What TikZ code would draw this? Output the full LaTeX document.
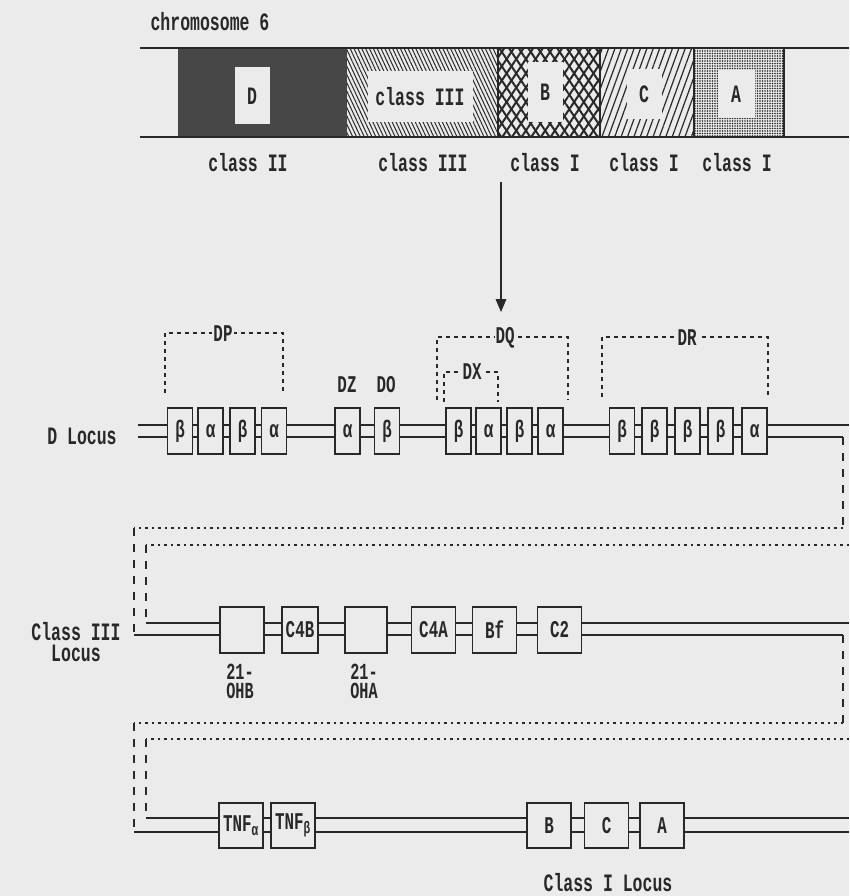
\documentclass[tikz,border=0pt]{standalone}
\usepackage{fontspec}
\newfontfamily\dotfont{Liberation Mono}[FakeStretch=0.66]
\usetikzlibrary{patterns.meta, arrows}
\definecolor{paper}{RGB}{235,235,235}
\definecolor{ink}{RGB}{40,40,40}

\tikzset{
  strand/.style = {ink, line width=1.4pt},
  genebox/.style = {draw=ink, line width=1.4pt, fill=paper, inner sep=0pt,
    minimum width=25pt, minimum height=46pt,
    font=\dotfont\bfseries\fontsize{24}{26}\selectfont},
  widebox/.style = {genebox, minimum width=44pt},
  linkdots/.style = {ink, line width=1.8pt, dash pattern=on 2.5pt off 4pt},
  linkdash/.style = {ink, line width=1.4pt, dash pattern=on 8pt off 8pt},
  bracket/.style = {ink, line width=1.3pt, dash pattern=on 4pt off 4pt},
  tag/.style = {fill=paper, inner sep=1pt,
    font=\dotfont\bfseries\fontsize{24}{26}\selectfont},
  hole/.style = {fill=paper, inner sep=0pt},
  twoline/.style = {inner sep=0pt, font=\dotfont\bfseries\fontsize{23}{24}\selectfont},
}

\begin{document}
\begin{tikzpicture}[x=1pt, y=-1pt, text=ink,
    font=\dotfont\bfseries\fontsize{25}{28}\selectfont]
  \useasboundingbox (0,0) rectangle (849,896);
  \fill[paper] (0,0) rectangle (849,896);

  % chromosome 6
  \node (chr) at (210,22) {chromosome 6};
  \fill[black!72] (178,48) rectangle (347,137);
  \fill[pattern={Lines[angle=-65, distance=3.5pt, line width=1pt]}, pattern color=ink]
    (347,48) rectangle (498,137);
  \fill[pattern={Lines[angle=56, distance=8pt, line width=2pt]}, pattern color=ink]
    (498,48) rectangle (600,137);
  \fill[pattern={Lines[angle=-56, distance=8pt, line width=2pt]}, pattern color=ink]
    (498,48) rectangle (600,137);
  \fill[pattern={Lines[angle=70, distance=6pt, line width=1.2pt]}, pattern color=ink]
    (600,48) rectangle (694,137);
  \fill[pattern={Dots[distance=2.5pt, radius=0.8pt]}, pattern color=ink]
    (694,48) rectangle (784,137);
  \draw[strand] (140,48) -- (849,48);
  \draw[strand] (140,137) -- (849,137);
  \draw[ink, line width=1.2pt] (498,48) -- (498,137) (600,48) -- (600,137)
    (694,48) -- (694,137) (784,48) -- (784,137);
  \node[hole, minimum width=35pt, minimum height=57pt] (Dreg) at (252,96) {D};
  \node[hole, minimum width=105pt, minimum height=51pt] (IIIreg) at (420,97) {class III};
  \node[hole, minimum width=35pt, minimum height=60pt] (Breg) at (545,92) {B};
  \node[hole, minimum width=35pt, minimum height=50pt] (Creg) at (644,94) {C};
  \node[hole, minimum width=37pt, minimum height=48pt] (Areg) at (736,94) {A};
  \node (lII) at (248,163) {class II};
  \node (lIII) at (423,163) {class III};
  \node (lIb) at (545,163) {class I};
  \node (lIc) at (644,163) {class I};
  \node (lIa) at (737,163) {class I};

  \coordinate (cut) at (501,182);
  \coordinate (cutend) at (501,312);
  \draw[ink, line width=2pt, -triangle 45] (cut) -- (cutend);

  % D locus
  \coordinate (dLi) at (138,425);
  \coordinate (dRi) at (849,425);
  \coordinate (dLo) at (138,437);
  \coordinate (dRo) at (843,437);
  \draw[strand] (dLi) -- (dRi);
  \draw[strand] (dLo) -- (dRo);
  \node (dlab) at (82,436) {D Locus};

  \node[genebox] (dp1) at (180,431) {β};
  \node[genebox] (dp2) at (210.5,431) {α};
  \node[genebox] (dp3) at (242.5,431) {β};
  \node[genebox] (dp4) at (274,431) {α};
  \node[genebox] (dz) at (347.5,431) {α};
  \node[genebox] (do) at (387,431) {β};
  \node[genebox] (dq1) at (458.5,431) {β};
  \node[genebox] (dq2) at (488.5,431) {α};
  \node[genebox] (dq3) at (519.5,431) {β};
  \node[genebox] (dq4) at (550.5,431) {α};
  \node[genebox] (dr1) at (622,431) {β};
  \node[genebox] (dr2) at (654.5,431) {β};
  \node[genebox] (dr3) at (687.5,431) {β};
  \node[genebox] (dr4) at (720.5,431) {β};
  \node[genebox] (dr5) at (754.5,431) {α};

  \draw[bracket] (165,393) -- (165,333) -- (283,333) -- (283,393);
  \node[tag] (dplab) at (223,334) {DP};
  \draw[bracket] (437,400) -- (437,337) -- (568,337) -- (568,400);
  \node[tag] (dqlab) at (505,338) {DQ};
  \draw[bracket] (444,402) -- (444,372) -- (498,372) -- (498,402);
  \node[tag] (dxlab) at (472,372) {DX};
  \draw[bracket] (602,397) -- (602,337) -- (768,337) -- (768,397);
  \node[tag] (drlab) at (687,338) {DR};
  \node[tag] (dzlab) at (347,385) {DZ};
  \node[tag] (dolab) at (386,385) {DO};

  % link to class III
  \coordinate (o1R) at (843,528);
  \coordinate (o1L) at (134,528);
  \coordinate (i1R) at (849,545);
  \coordinate (i1L) at (146,545);
  \coordinate (cLo) at (134,635);
  \coordinate (cRo) at (843,635);
  \coordinate (cLi) at (146,623);
  \coordinate (cRi) at (849,623);
  \draw[linkdash] (dRo) -- (o1R);
  \draw[linkdots] (o1R) -- (o1L);
  \draw[linkdash] (o1L) -- (cLo);
  \draw[linkdots] (i1R) -- (i1L);
  \draw[linkdash] (i1L) -- (cLi);

  % class III locus
  \draw[strand] (cLi) -- (cRi);
  \draw[strand] (cLo) -- (cRo);
  \node[twoline, font=\dotfont\bfseries\fontsize{25}{28}\selectfont] (clab1) at (76,632) {Class III};
  \node[twoline, font=\dotfont\bfseries\fontsize{25}{28}\selectfont] (clab2) at (76,653) {Locus};
  \node[widebox] (ohb) at (242,630) {};
  \node[widebox, minimum width=36pt] (c4b) at (300,630) {C4B};
  \node[widebox, minimum width=42pt] (oha) at (366,630) {};
  \node[widebox] (c4a) at (433.5,630) {C4A};
  \node[widebox] (bf) at (494.5,630) {Bf};
  \node[widebox] (c2) at (559.5,630) {C2};
  \node[twoline] (ohb1) at (240,672) {21-};
  \node[twoline] (ohb2) at (240,691) {OHB};
  \node[twoline] (oha1) at (364,672) {21-};
  \node[twoline] (oha2) at (364,691) {OHA};

  % link to class I
  \coordinate (o2R) at (843,723);
  \coordinate (o2L) at (134,723);
  \coordinate (i2R) at (849,739);
  \coordinate (i2L) at (146,739);
  \coordinate (kLo) at (134,832);
  \coordinate (kRo) at (849,832);
  \coordinate (kLi) at (146,818);
  \coordinate (kRi) at (849,818);
  \draw[linkdash] (cRo) -- (o2R);
  \draw[linkdots] (o2R) -- (o2L);
  \draw[linkdash] (o2L) -- (kLo);
  \draw[linkdots] (i2R) -- (i2L);
  \draw[linkdash] (i2L) -- (kLi);

  % class I locus
  \draw[strand] (kLi) -- (kRi);
  \draw[strand] (kLo) -- (kRo);
  \node[widebox, minimum height=45pt] (tnfa) at (241,825.5) {TNF\textsubscript{α}};
  \node[widebox, minimum height=45pt] (tnfb) at (293,825.5) {TNF\textsubscript{β}};
  \node[widebox, minimum height=45pt] (hlab) at (549,825.5) {B};
  \node[widebox, minimum height=45pt] (hlac) at (606.5,825.5) {C};
  \node[widebox, minimum height=45pt] (hlaa) at (662,825.5) {A};
  \node (klab) at (608,883) {Class I Locus};
\end{tikzpicture}
\end{document}
